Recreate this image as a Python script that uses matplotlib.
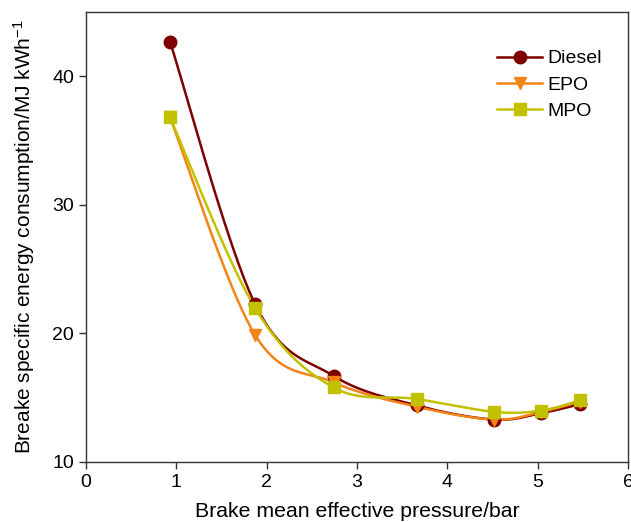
import numpy as np
import matplotlib
matplotlib.use("Agg")
import matplotlib.pyplot as plt

plt.rcParams['font.family'] = ['Liberation Sans', 'DejaVu Sans']
plt.rcParams['mathtext.fontset'] = 'custom'
plt.rcParams['mathtext.rm'] = 'Liberation Sans'
plt.rcParams['mathtext.it'] = 'Liberation Sans'

bmep = [0.93, 1.87, 2.74, 3.66, 4.52, 5.04, 5.47]
diesel = [42.7, 22.3, 16.7, 14.4, 13.3, 13.8, 14.5]
epo = [36.8, 19.9, 16.2, 14.3, 13.3, 13.9, 14.7]
mpo = [36.8, 22.0, 15.8, 14.9, 13.9, 14.0, 14.8]

series = [("Diesel", diesel, "#7f0000", "o", "#7f0000"),
          ("EPO", epo, "#f28418", "v", "#f28418"),
          ("MPO", mpo, "#c2c100", "s", "#c2c100")]


def smooth(x, y, n=40):
    x = np.asarray(x, float); y = np.asarray(y, float)
    px = np.concatenate([[x[0]], x, [x[-1]]])
    py = np.concatenate([[y[0]], y, [y[-1]]])
    xs, ys = [], []
    t = np.linspace(0, 1, n)
    for i in range(1, len(px) - 2):
        p0 = np.array([px[i], py[i]]); p1 = np.array([px[i + 1], py[i + 1]])
        c1 = p0 + (np.array([px[i + 1], py[i + 1]]) - np.array([px[i - 1], py[i - 1]])) / 6
        c2 = p1 - (np.array([px[i + 2], py[i + 2]]) - np.array([px[i], py[i]])) / 6
        b = ((1 - t) ** 3)[:, None] * p0 + (3 * (1 - t) ** 2 * t)[:, None] * c1 \
            + (3 * (1 - t) * t ** 2)[:, None] * c2 + (t ** 3)[:, None] * p1
        xs.append(b[:, 0]); ys.append(b[:, 1])
    return np.concatenate(xs), np.concatenate(ys)


fig = plt.figure(figsize=(6.31, 5.22), dpi=100)
ax = fig.add_axes([86 / 631, 60 / 522, 542 / 631, 450 / 522])

for name, vals, col, mk, mc in series:
    sx, sy = smooth(bmep, vals)
    ax.plot(sx, sy, color=col, lw=1.8, zorder=2)
    ax.plot(bmep, vals, linestyle='none', marker=mk, color=mc, markersize=9,
            markeredgecolor=mc, zorder=3)
    ax.plot([], [], color=col, lw=1.8, marker=mk, markersize=9, label=name)

ax.set_xlim(0, 6)
ax.set_ylim(10, 45)
ax.set_xticks([0, 1, 2, 3, 4, 5, 6])
ax.set_yticks([10, 20, 30, 40])
ax.tick_params(direction='out', labelsize=14, length=5, width=1, color='#333333')
for s in ax.spines.values():
    s.set_color('#333333')
    s.set_linewidth(1)

ax.set_xlabel("Brake mean effective pressure/bar", fontsize=15.3, labelpad=8)
ax.set_ylabel(r"Breake specific energy consumption/MJ kWh$^{-1}$", fontsize=15, labelpad=11)

ax.legend(loc='upper right', bbox_to_anchor=(0.985, 0.955), frameon=False, fontsize=14,
          handlelength=2.3, handletextpad=0.3, labelspacing=0.45)

fig.savefig("out.png", dpi=100)
